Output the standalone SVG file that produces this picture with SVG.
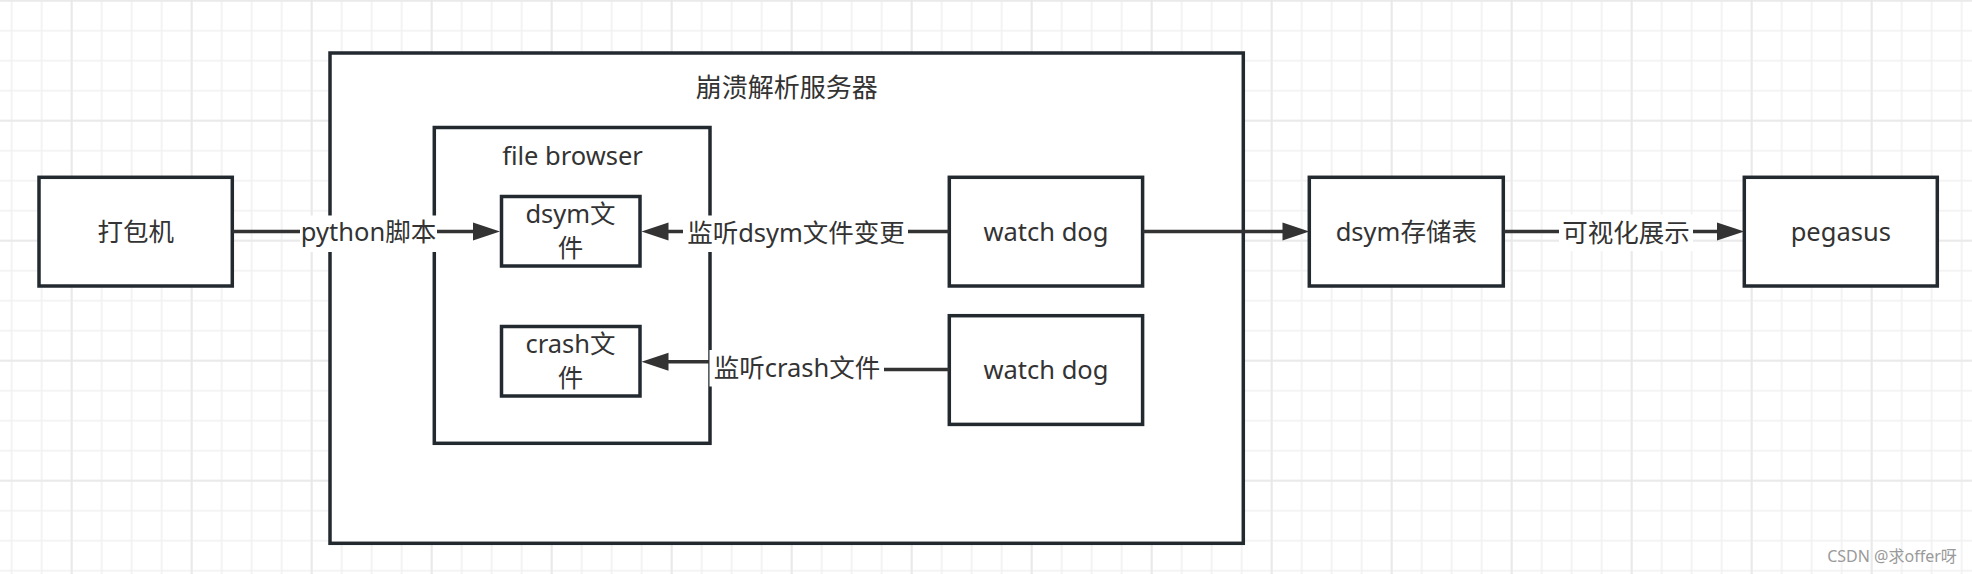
<svg xmlns="http://www.w3.org/2000/svg" width="1972" height="574" viewBox="0 0 1972 574">
<style>
.box{fill:#ffffff;stroke:#222a30;stroke-width:3.5}
.t{font-family:"Noto Sans","Noto Sans CJK SC",sans-serif;font-size:25.5px;fill:#333333;text-anchor:middle}
.edge{fill:none;stroke:#333333;stroke-width:3.5}
.head{fill:#333333;stroke:none}
.lbg{fill:#ffffff}
</style>
<defs>
<pattern id="minor" patternUnits="userSpaceOnUse" x="-3.3" y="-14.3" width="30" height="30">
<path d="M15 0V30M0 15H30" stroke="#f1f1f1" stroke-width="1.6" fill="none"/>
</pattern>
<pattern id="major" patternUnits="userSpaceOnUse" x="11.7" y="-59.3" width="120" height="120">
<path d="M60 0V120M0 60H120" stroke="#e7e7e7" stroke-width="1.6" fill="none"/>
</pattern>
</defs>
<rect width="1972" height="574" fill="#ffffff"/>
<rect width="1972" height="574" fill="url(#minor)"/>
<rect width="1972" height="574" fill="url(#major)"/>

<g id="server">
<rect class="box" x="330" y="53" width="913.3" height="490.3"/>
<text class="t" x="786.7" y="97" style="font-size:26px">崩溃解析服务器</text>
</g>
<g id="filebrowser">
<rect class="box" x="434.3" y="127.5" width="275.7" height="315.8"/>
<text class="t" x="572.5" y="165">file browser</text>
</g>
<g id="packer">
<rect class="box" x="39" y="177.3" width="193.3" height="108.7"/>
<text class="t" x="135.7" y="241">打包机</text>
</g>
<g id="dsymfile">
<rect class="box" x="501.5" y="196.5" width="138.5" height="69.5"/>
<text class="t" x="570.5" y="223">dsym文</text>
<text class="t" x="570.5" y="256.5">件</text>
</g>
<g id="crashfile">
<rect class="box" x="501.5" y="326.5" width="138.5" height="69.5"/>
<text class="t" x="570.5" y="353">crash文</text>
<text class="t" x="570.5" y="386.5">件</text>
</g>
<g id="watchdog1">
<rect class="box" x="949.3" y="177.3" width="193.3" height="108.7"/>
<text class="t" x="1046" y="241">watch dog</text>
</g>
<g id="watchdog2">
<rect class="box" x="949.3" y="315.7" width="193.3" height="108.7"/>
<text class="t" x="1046" y="379">watch dog</text>
</g>
<g id="dsymstore">
<rect class="box" x="1309.3" y="177.3" width="194" height="108.7"/>
<text class="t" x="1406.3" y="241">dsym存储表</text>
</g>
<g id="pegasus">
<rect class="box" x="1744.3" y="177.3" width="193" height="108.7"/>
<text class="t" x="1840.8" y="241">pegasus</text>
</g>

<g id="connectors">
<path class="edge" d="M232.3 231.5H474"/>
<path class="head" d="M500 231.5L473 222.5V240.5Z"/>
<rect class="lbg" x="300" y="215.5" width="137" height="36.5"/>
<text class="t" x="368.5" y="241">python脚本</text>

<path class="edge" d="M949.3 231.5H667"/>
<path class="head" d="M641.5 231.5L668.5 222.5V240.5Z"/>
<rect class="lbg" x="683" y="215.5" width="225" height="36.5"/>
<text class="t" x="796" y="242">监听dsym文件变更</text>

<path class="edge" d="M949.3 369.5H796V361.8H667"/>
<path class="head" d="M641.5 361.8L668.5 352.8V370.8Z"/>
<rect class="lbg" x="709.5" y="350" width="174.5" height="36.5"/>
<text class="t" x="797" y="376.5">监听crash文件</text>

<path class="edge" d="M1142.6 231.5H1284"/>
<path class="head" d="M1309.3 231.5L1282.5 222.5V240.5Z"/>

<path class="edge" d="M1503.3 231.5H1718"/>
<path class="head" d="M1744.3 231.5L1717 222.5V240.5Z"/>
<rect class="lbg" x="1559" y="214.5" width="134" height="36.5"/>
<text class="t" x="1626" y="241.5">可视化展示</text>
</g>

<text x="1892" y="561.5" style="font-family:'Noto Sans','Noto Sans CJK SC',sans-serif;font-size:16px;fill:#9a9a9a;text-anchor:middle">CSDN @求offer呀</text>
</svg>
